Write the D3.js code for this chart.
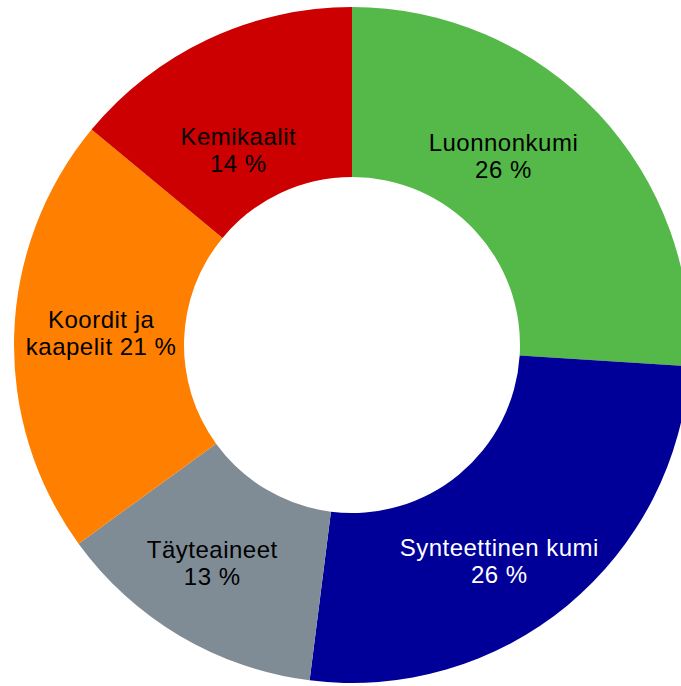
<!DOCTYPE html>
<html>
<head>
<meta charset="utf-8">
<script src="https://cdn.jsdelivr.net/npm/d3@7"></script>
<style>
  html, body { margin: 0; padding: 0; background: #fff; overflow: hidden; }
</style>
</head>
<body>
<div id="canvas"></div>
<script>
// data
const categories = ["Luonnonkumi", "Synteettinen kumi", "Täyteaineet", "Koordit ja kaapelit", "Kemikaalit"];
const shares = [26, 26, 13, 21, 14];
const labelLines = [
  ["Luonnonkumi", "26 %"],
  ["Synteettinen kumi", "26 %"],
  ["Täyteaineet", "13 %"],
  ["Koordit ja", "kaapelit 21 %"],
  ["Kemikaalit", "14 %"]
];

const colors = ["#54b948", "#000099", "#7f8c96", "#ff7f00", "#cc0000"];
const textColors = ["#000", "#fff", "#000", "#000", "#000"];
// small label shifts from the ring middle, to sit like the original
const nudge = [[-33, -16], [-14, 21], [-11, 0], [2, -4], [-6, 34]];

const width = 681;
const height = 686;
const cx = 352, cy = 345;
const outerR = 338, innerR = 168;

const svg = d3.select("#canvas").append("svg")
  .attr("width", width)
  .attr("height", height);

const g = svg.append("g").attr("transform", `translate(${cx},${cy})`);

const data = categories.map((c, i) => ({ name: c, value: shares[i], i: i }));

const pie = d3.pie().value(d => d.value).sort(null);
const arc = d3.arc().innerRadius(innerR).outerRadius(outerR);
const labelArc = d3.arc().innerRadius((innerR + outerR) / 2).outerRadius((innerR + outerR) / 2);

const arcs = pie(data);

g.selectAll("path.slice").data(arcs)
  .enter().append("path")
  .attr("class", "slice")
  .attr("d", arc)
  .style("fill", d => colors[d.data.i]);

const fontSize = 24;
const lineH = 27;

const labels = g.selectAll("text.lbl").data(arcs)
  .enter().append("text")
  .attr("class", "lbl")
  .attr("text-anchor", "middle")
  .style("font-family", "Arial, 'Liberation Sans', sans-serif")
  .style("font-size", fontSize + "px")
  .style("letter-spacing", "0.5px")
  .style("fill", d => textColors[d.data.i])
  .attr("transform", d => {
    const c = labelArc.centroid(d);
    const n = nudge[d.data.i];
    return `translate(${c[0] + n[0]},${c[1] + n[1]})`;
  });

labels.each(function(d) {
  const lines = labelLines[d.data.i];
  const t = d3.select(this);
  const y0 = -(lines.length - 1) * lineH / 2 + fontSize * 0.36;
  lines.forEach((ln, k) => {
    t.append("tspan")
      .attr("x", 0)
      .attr("y", y0 + k * lineH)
      .text(ln);
  });
});
</script>
</body>
</html>
